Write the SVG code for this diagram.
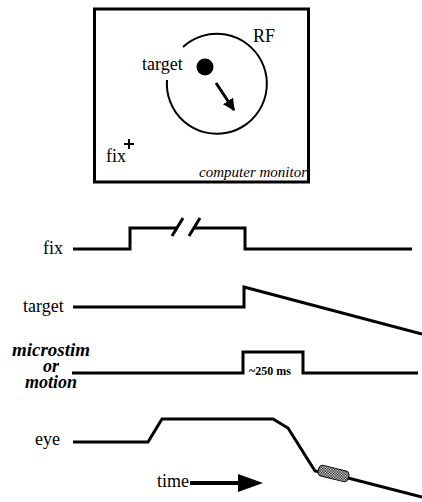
<svg xmlns="http://www.w3.org/2000/svg" width="422" height="502" viewBox="0 0 422 502">
<style>
.t{font-family:"Liberation Serif","Times New Roman",serif;font-size:18px;fill:#000}
.bi{font-family:"Liberation Serif","Times New Roman",serif;font-size:18px;font-weight:bold;font-style:italic;fill:#000}
.tr{fill:none;stroke:#000;stroke-width:3;stroke-linejoin:miter;stroke-linecap:butt}
</style>
<defs>
<pattern id="chk" width="2" height="2" patternUnits="userSpaceOnUse">
<rect width="2" height="2" fill="#fff"/>
<rect width="1" height="1" fill="#000"/>
<rect x="1" y="1" width="1" height="1" fill="#000"/>
</pattern>
<marker id="ah" viewBox="0 0 10 10" refX="9" refY="5" markerWidth="4" markerHeight="4" orient="auto" markerUnits="strokeWidth">
<path d="M0,0 L10,5 L0,10 Z" fill="#000"/>
</marker>
</defs>
<g id="monitor">
<rect x="94.5" y="9" width="214" height="173" fill="#fff" stroke="#000" stroke-width="3"/>
<path d="M183,47 A50 50 0 1 1 167,80" fill="none" stroke="#000" stroke-width="2"/>
<circle cx="205" cy="67" r="8.5" fill="#000"/>
<line x1="216" y1="83" x2="234" y2="110" stroke="#000" stroke-width="3" marker-end="url(#ah)"/>
<text class="t" x="253" y="42">RF</text>
<text class="t" x="142" y="70">target</text>
<text class="t" x="106" y="162">fix</text>
<path d="M124,144 H134 M129,139 V149" stroke="#000" stroke-width="2"/>
<text x="307" y="177" text-anchor="end" style="font-family:'Liberation Serif','Times New Roman',serif;font-size:15px;font-style:italic">computer monitor</text>
</g>
<g id="labels">
<text class="t" x="43" y="254">fix</text>
<text class="t" x="23" y="312">target</text>
<text class="bi" x="51" y="356" text-anchor="middle" textLength="78" lengthAdjust="spacingAndGlyphs">microstim</text>
<text class="bi" x="51" y="372" text-anchor="middle">or</text>
<text class="bi" x="51" y="388" text-anchor="middle">motion</text>
<text class="t" x="35" y="445">eye</text>
<text class="t" x="157" y="487">time</text>
<text x="270" y="375" text-anchor="middle" style="font-family:'Liberation Serif','Times New Roman',serif;font-size:12px;font-weight:bold">~250 ms</text>
</g>
<g id="connectors">
<path class="tr" d="M73,249 H130 V228 H178 M193,228 H245 V249 H412"/>
<path d="M172,236 L183,218 M189,236 L200,218" stroke="#000" stroke-width="3"/>
<path class="tr" d="M73,307 H244 V287 L422,334"/>
<path class="tr" d="M72,373 H243 V352 H303 V373 H418"/>
<path class="tr" d="M73,442 H148 L162,419 H273 L288,428 L315,471 L348,478 L422,497"/>
<rect x="318" y="468" width="31" height="11" rx="4" transform="rotate(14 333.5 473.5)" fill="url(#chk)" stroke="#000" stroke-width="1"/>
<path d="M190,483 H240" stroke="#000" stroke-width="4"/>
<path d="M238,474 L263,483 L238,492 Z" fill="#000"/>
</g>
</svg>
